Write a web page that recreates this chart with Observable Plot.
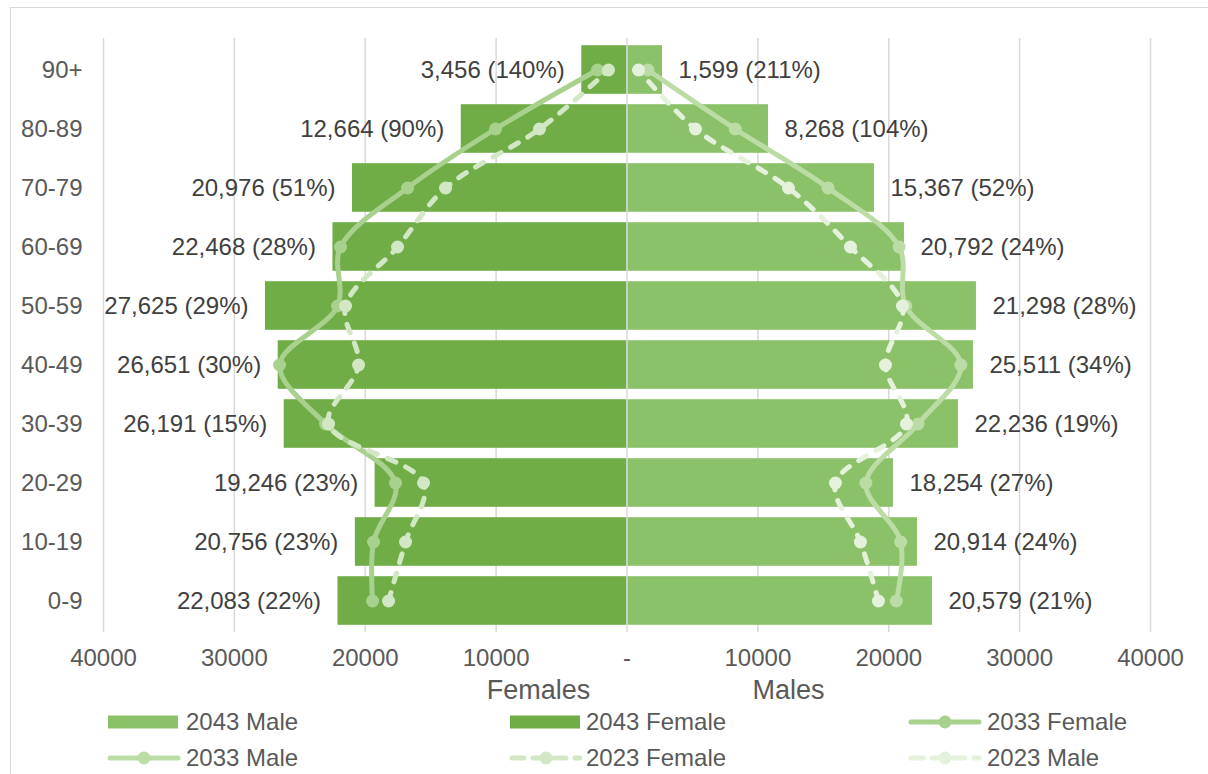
<!DOCTYPE html>
<html><head><meta charset="utf-8">
<script src="https://cdn.jsdelivr.net/npm/d3@7"></script>
<script src="https://cdn.jsdelivr.net/npm/@observablehq/plot@0.6"></script>
<style>
body{margin:0;background:#fff;}
#wrap{position:relative;width:1208px;height:774px;overflow:hidden;font-family:"Liberation Sans",Arial,sans-serif;background:#fff;}
#frame{position:absolute;left:10px;top:7px;width:1300px;height:900px;border-left:1.5px solid #d9d9d9;border-top:1.5px solid #d9d9d9;}
#chart{position:absolute;left:0;top:0;}
.lg{position:absolute;font-size:24px;color:#595959;line-height:24px;white-space:nowrap;}
.sw{position:absolute;}
</style></head>
<body><div id="wrap"><div id="frame"></div><div id="chart"></div><div id="legend"></div></div>
<script>
// ---- data (ages bottom to top) ----
const ages = ["0-9","10-19","20-29","30-39","40-49","50-59","60-69","70-79","80-89","90+"];
const female2043 = [22083, 20756, 19246, 26191, 26651, 27625, 22468, 20976, 12664, 3456];
const male2043   = [23338, 22192, 20359, 25325, 26470, 26700, 21200, 18907, 10810, 2712];
const female2033 = [19443, 19366, 17685, 23033, 26547, 22116, 21887, 16768, 10046, 2254];
const male2033   = [20579, 20914, 18254, 22236, 25511, 21298, 20792, 15367, 8268, 1599];
const female2023 = [18220, 16921, 15546, 22804, 20512, 21505, 17532, 13866, 6684, 1413];
const male2023   = [19213, 17838, 15928, 21352, 19748, 21047, 17074, 12338, 5233, 879];
const femalePct  = [22, 23, 23, 15, 30, 29, 28, 51, 90, 140];
const malePct    = [21, 24, 27, 19, 34, 28, 24, 52, 104, 211];
const maleLabelValues = male2033; // labels on the male side show these values
const xTicks = [-40000, -30000, -20000, -10000, 0, 10000, 20000, 30000, 40000];
const xTickLabels = ["40000","30000","20000","10000","-","10000","20000","30000","40000"];
const axisTitles = ["Females", "Males"];

const C = {
  f43: "#70AD47", m43: "#8BC168",
  f33: "#A9D18E", m33: "#BCDCA6",
  f23: "#D2E7C4", m23: "#E4F1DB",
  grid: "#d9d9d9", tick: "#595959", label: "#404040"
};
const font = '"Liberation Sans", Arial, sans-serif';
const fmt = d3.format(",");

const rows = ages.map((a, i) => ({
  age: a, f43: female2043[i], m43: male2043[i],
  fp: femalePct[i], mp: malePct[i], ml: maleLabelValues[i]
}));
const lineSeries = [
  {name: "2033 Female", values: female2033, sign: -1, color: C.f33, dash: null},
  {name: "2033 Male",   values: male2033,   sign:  1, color: C.m33, dash: null},
  {name: "2023 Female", values: female2023, sign: -1, color: C.f23, dash: "9,11"},
  {name: "2023 Male",   values: male2023,   sign:  1, color: C.m23, dash: "9,11"}
];
const lineMarks = [];
for (const s of lineSeries) {
  const pts = ages.map((a, i) => ({age: a, v: s.sign * s.values[i]}));
  lineMarks.push(Plot.line(pts, {x: "v", y: "age", curve: "catmull-rom", stroke: s.color,
    strokeWidth: 5, strokeLinecap: "round", strokeLinejoin: "round",
    strokeDasharray: s.dash || undefined}));
  lineMarks.push(Plot.dot(pts, {x: "v", y: "age", r: 6.5, fill: s.color, stroke: "none"}));
}

const chart = Plot.plot({
  width: 1208, height: 720,
  marginLeft: 103, marginRight: 58, marginTop: 38, marginBottom: 88,
  style: {background: "none", fontFamily: font, fontSize: "24px", color: C.tick},
  x: {domain: [-40000, 40000], axis: null},
  y: {domain: ages.slice().reverse(), padding: 0, axis: null},
  marks: [
    Plot.ruleX(xTicks.filter(d => d !== 0), {stroke: C.grid, strokeWidth: 1.5}),
    Plot.barX(rows, {x1: 0, x2: d => -d.f43, y: "age", fill: C.f43, insetTop: 5.2, insetBottom: 5.2}),
    Plot.barX(rows, {x1: 0, x2: "m43", y: "age", fill: C.m43, insetTop: 5.2, insetBottom: 5.2}),
    Plot.ruleX([0], {stroke: C.grid, strokeWidth: 1.5}),
    Plot.text(rows, {x: d => -d.f43, y: "age", text: d => `${fmt(d.f43)} (${d.fp}%)`,
      textAnchor: "end", dx: -17, fill: C.label, fontSize: 24}),
    Plot.text(rows, {x: "m43", y: "age", text: d => `${fmt(d.ml)} (${d.mp}%)`,
      textAnchor: "start", dx: 16, fill: C.label, fontSize: 24}),
    ...lineMarks,
    Plot.axisY({tickSize: 0, tickPadding: 21, label: null, fill: C.tick, fontSize: 24}),
    Plot.text(xTicks, {x: d => d, text: (d, i) => xTickLabels[i], frameAnchor: "bottom",
      dy: 33, fill: C.tick, fontSize: 24}),
    Plot.text([axisTitles[0]], {text: d => d, frameAnchor: "bottom", dx: -88.5, dy: 66, fill: C.tick, fontSize: 27}),
    Plot.text([axisTitles[1]], {text: d => d, frameAnchor: "bottom", dx: 161.5, dy: 66, fill: C.tick, fontSize: 27})
  ]
});
document.getElementById("chart").appendChild(chart);

// ---- legend ----
const legendItems = [
  {name: "2043 Male",   type: "bar",  color: C.m43, dash: null},
  {name: "2043 Female", type: "bar",  color: C.f43, dash: null},
  {name: "2033 Female", type: "line", color: C.f33, dash: null},
  {name: "2033 Male",   type: "line", color: C.m33, dash: null},
  {name: "2023 Female", type: "line", color: C.f23, dash: "12,9"},
  {name: "2023 Male",   type: "line", color: C.m23, dash: "12,9"}
];
const swX = [108, 510, 909], txX = [186, 586, 987], rowY = [722, 758];
const lg = document.getElementById("legend");
legendItems.forEach((it, i) => {
  const col = i % 3, row = Math.floor(i / 3);
  const cy = rowY[row];
  const svg = d3.create("svg").attr("class", "sw").attr("width", 76).attr("height", 20)
    .style("left", (swX[col] - 2) + "px").style("top", (cy - 10) + "px");
  if (it.type === "bar") {
    svg.append("rect").attr("x", 2).attr("y", 3.5).attr("width", 70).attr("height", 13).attr("fill", it.color);
  } else {
    svg.append("line").attr("x1", 4).attr("x2", 72).attr("y1", 10).attr("y2", 10)
      .attr("stroke", it.color).attr("stroke-width", 5).attr("stroke-linecap", "round")
      .attr("stroke-dasharray", it.dash);
    svg.append("circle").attr("cx", 38).attr("cy", 10).attr("r", 6.5).attr("fill", it.color);
  }
  lg.appendChild(svg.node());
  const t = document.createElement("div");
  t.className = "lg"; t.textContent = it.name;
  t.style.left = txX[col] + "px"; t.style.top = (cy - 12) + "px";
  lg.appendChild(t);
});
</script>
</body></html>
